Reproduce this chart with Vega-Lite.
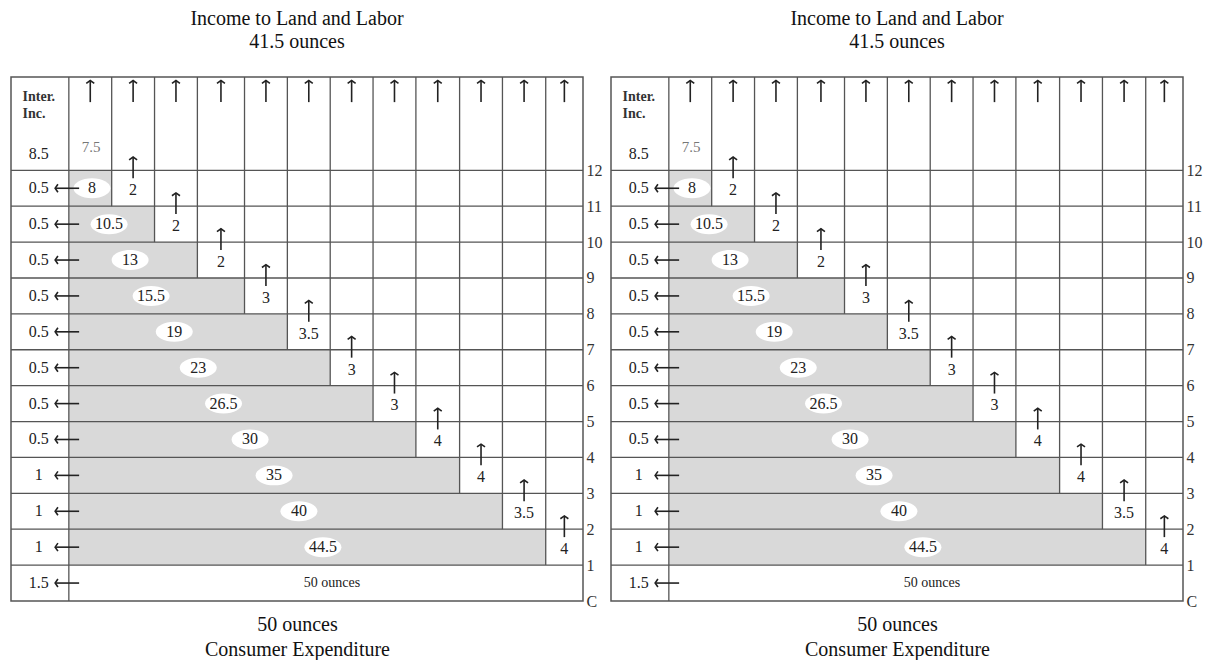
{
  "$schema": "https://vega.github.io/schema/vega-lite/v6.json",
  "padding": {"left": 9, "top": 8, "right": 0, "bottom": 0},
  "background": "white",
  "spacing": 6,
  "config": {"view": {"stroke": "#555", "strokeWidth": 1.5}, "font": "Liberation Serif"},
  "datasets": {
    "grid": [
      {"x": -1.35, "x2": 12, "y": 1, "y2": 1}, {"x": -1.35, "x2": 12, "y": 2, "y2": 2},
      {"x": -1.35, "x2": 12, "y": 3, "y2": 3}, {"x": -1.35, "x2": 12, "y": 4, "y2": 4},
      {"x": -1.35, "x2": 12, "y": 5, "y2": 5}, {"x": -1.35, "x2": 12, "y": 6, "y2": 6},
      {"x": -1.35, "x2": 12, "y": 7, "y2": 7}, {"x": -1.35, "x2": 12, "y": 8, "y2": 8},
      {"x": -1.35, "x2": 12, "y": 9, "y2": 9}, {"x": -1.35, "x2": 12, "y": 10, "y2": 10},
      {"x": -1.35, "x2": 12, "y": 11, "y2": 11}, {"x": -1.35, "x2": 12, "y": 12, "y2": 12},
      {"x": 0, "x2": 0, "y": 0, "y2": 14.6},
      {"x": 1, "x2": 1, "y": 11, "y2": 14.6}, {"x": 2, "x2": 2, "y": 10, "y2": 14.6},
      {"x": 3, "x2": 3, "y": 9, "y2": 14.6}, {"x": 4.1, "x2": 4.1, "y": 8, "y2": 14.6},
      {"x": 5.1, "x2": 5.1, "y": 7, "y2": 14.6}, {"x": 6.1, "x2": 6.1, "y": 6, "y2": 14.6},
      {"x": 7.1, "x2": 7.1, "y": 5, "y2": 14.6}, {"x": 8.1, "x2": 8.1, "y": 4, "y2": 14.6},
      {"x": 9.12, "x2": 9.12, "y": 3, "y2": 14.6}, {"x": 10.12, "x2": 10.12, "y": 2, "y2": 14.6},
      {"x": 11.13, "x2": 11.13, "y": 1, "y2": 14.6}
    ],
    "shade": [
      {"x": 0, "x2": 1, "y": 11, "y2": 12}, {"x": 0, "x2": 2, "y": 10, "y2": 11},
      {"x": 0, "x2": 3, "y": 9, "y2": 10}, {"x": 0, "x2": 4.1, "y": 8, "y2": 9},
      {"x": 0, "x2": 5.1, "y": 7, "y2": 8}, {"x": 0, "x2": 6.1, "y": 6, "y2": 7},
      {"x": 0, "x2": 7.1, "y": 5, "y2": 6}, {"x": 0, "x2": 8.1, "y": 4, "y2": 5},
      {"x": 0, "x2": 9.12, "y": 3, "y2": 4}, {"x": 0, "x2": 10.12, "y": 2, "y2": 3},
      {"x": 0, "x2": 11.13, "y": 1, "y2": 2}
    ],
    "labels": [
      {"kind": "total", "text": "8", "x": 0.54, "y": 11.5},
      {"kind": "total", "text": "10.5", "x": 0.94, "y": 10.5},
      {"kind": "total", "text": "13", "x": 1.43, "y": 9.5},
      {"kind": "total", "text": "15.5", "x": 1.92, "y": 8.5},
      {"kind": "total", "text": "19", "x": 2.46, "y": 7.5},
      {"kind": "total", "text": "23", "x": 3.02, "y": 6.5},
      {"kind": "total", "text": "26.5", "x": 3.61, "y": 5.5},
      {"kind": "total", "text": "30", "x": 4.23, "y": 4.5},
      {"kind": "total", "text": "35", "x": 4.79, "y": 3.5},
      {"kind": "total", "text": "40", "x": 5.37, "y": 2.5},
      {"kind": "total", "text": "44.5", "x": 5.93, "y": 1.5},
      {"kind": "grand", "text": "50 ounces", "x": 6.14, "y": 0.5},
      {"kind": "inc", "text": "2", "x": 1.5, "y": 11.45},
      {"kind": "inc", "text": "2", "x": 2.5, "y": 10.45},
      {"kind": "inc", "text": "2", "x": 3.55, "y": 9.45},
      {"kind": "inc", "text": "3", "x": 4.6, "y": 8.45},
      {"kind": "inc", "text": "3.5", "x": 5.6, "y": 7.45},
      {"kind": "inc", "text": "3", "x": 6.6, "y": 6.45},
      {"kind": "inc", "text": "3", "x": 7.6, "y": 5.45},
      {"kind": "inc", "text": "4", "x": 8.61, "y": 4.45},
      {"kind": "inc", "text": "4", "x": 9.62, "y": 3.45},
      {"kind": "inc", "text": "3.5", "x": 10.625, "y": 2.45},
      {"kind": "inc", "text": "4", "x": 11.565, "y": 1.45},
      {"kind": "inter", "text": "0.5", "x": -0.7, "y": 11.5},
      {"kind": "inter", "text": "0.5", "x": -0.7, "y": 10.5},
      {"kind": "inter", "text": "0.5", "x": -0.7, "y": 9.5},
      {"kind": "inter", "text": "0.5", "x": -0.7, "y": 8.5},
      {"kind": "inter", "text": "0.5", "x": -0.7, "y": 7.5},
      {"kind": "inter", "text": "0.5", "x": -0.7, "y": 6.5},
      {"kind": "inter", "text": "0.5", "x": -0.7, "y": 5.5},
      {"kind": "inter", "text": "0.5", "x": -0.7, "y": 4.5},
      {"kind": "inter", "text": "1", "x": -0.7, "y": 3.5},
      {"kind": "inter", "text": "1", "x": -0.7, "y": 2.5},
      {"kind": "inter", "text": "1", "x": -0.7, "y": 1.5},
      {"kind": "inter", "text": "1.5", "x": -0.7, "y": 0.5},
      {"kind": "init", "text": "8.5", "x": -0.7, "y": 12.45},
      {"kind": "head", "text": "Inter.", "x": -1.08, "y": 14.05},
      {"kind": "head", "text": "Inc.", "x": -1.08, "y": 13.58},
      {"kind": "wage", "text": "7.5", "x": 0.52, "y": 12.64}
    ],
    "shafts": [
      {"x": 0.5, "x2": 0.5, "y": 13.9, "y2": 14.5}, {"x": 1.5, "x2": 1.5, "y": 13.9, "y2": 14.5},
      {"x": 2.5, "x2": 2.5, "y": 13.9, "y2": 14.5}, {"x": 3.55, "x2": 3.55, "y": 13.9, "y2": 14.5},
      {"x": 4.6, "x2": 4.6, "y": 13.9, "y2": 14.5}, {"x": 5.6, "x2": 5.6, "y": 13.9, "y2": 14.5},
      {"x": 6.6, "x2": 6.6, "y": 13.9, "y2": 14.5}, {"x": 7.6, "x2": 7.6, "y": 13.9, "y2": 14.5},
      {"x": 8.61, "x2": 8.61, "y": 13.9, "y2": 14.5}, {"x": 9.62, "x2": 9.62, "y": 13.9, "y2": 14.5},
      {"x": 10.625, "x2": 10.625, "y": 13.9, "y2": 14.5}, {"x": 11.565, "x2": 11.565, "y": 13.9, "y2": 14.5},
      {"x": 1.5, "x2": 1.5, "y": 11.78, "y2": 12.37}, {"x": 2.5, "x2": 2.5, "y": 10.78, "y2": 11.37},
      {"x": 3.55, "x2": 3.55, "y": 9.78, "y2": 10.37}, {"x": 4.6, "x2": 4.6, "y": 8.78, "y2": 9.37},
      {"x": 5.6, "x2": 5.6, "y": 7.78, "y2": 8.37}, {"x": 6.6, "x2": 6.6, "y": 6.78, "y2": 7.37},
      {"x": 7.6, "x2": 7.6, "y": 5.78, "y2": 6.37}, {"x": 8.61, "x2": 8.61, "y": 4.78, "y2": 5.37},
      {"x": 9.62, "x2": 9.62, "y": 3.78, "y2": 4.37}, {"x": 10.625, "x2": 10.625, "y": 2.78, "y2": 3.37},
      {"x": 11.565, "x2": 11.565, "y": 1.78, "y2": 2.37},
      {"x": 0.24, "x2": -0.32, "y": 11.5, "y2": 11.5}, {"x": 0.24, "x2": -0.32, "y": 10.5, "y2": 10.5},
      {"x": 0.24, "x2": -0.32, "y": 9.5, "y2": 9.5}, {"x": 0.24, "x2": -0.32, "y": 8.5, "y2": 8.5},
      {"x": 0.24, "x2": -0.32, "y": 7.5, "y2": 7.5}, {"x": 0.24, "x2": -0.32, "y": 6.5, "y2": 6.5},
      {"x": 0.24, "x2": -0.32, "y": 5.5, "y2": 5.5}, {"x": 0.24, "x2": -0.32, "y": 4.5, "y2": 4.5},
      {"x": 0.24, "x2": -0.32, "y": 3.5, "y2": 3.5}, {"x": 0.24, "x2": -0.32, "y": 2.5, "y2": 2.5},
      {"x": 0.24, "x2": -0.32, "y": 1.5, "y2": 1.5}, {"x": 0.24, "x2": -0.32, "y": 0.5, "y2": 0.5}
    ],
    "heads": [
      {"x": 0.5, "y": 14.5, "dir": "up"}, {"x": 1.5, "y": 14.5, "dir": "up"},
      {"x": 2.5, "y": 14.5, "dir": "up"}, {"x": 3.55, "y": 14.5, "dir": "up"},
      {"x": 4.6, "y": 14.5, "dir": "up"}, {"x": 5.6, "y": 14.5, "dir": "up"},
      {"x": 6.6, "y": 14.5, "dir": "up"}, {"x": 7.6, "y": 14.5, "dir": "up"},
      {"x": 8.61, "y": 14.5, "dir": "up"}, {"x": 9.62, "y": 14.5, "dir": "up"},
      {"x": 10.625, "y": 14.5, "dir": "up"}, {"x": 11.565, "y": 14.5, "dir": "up"},
      {"x": 1.5, "y": 12.37, "dir": "up"}, {"x": 2.5, "y": 11.37, "dir": "up"},
      {"x": 3.55, "y": 10.37, "dir": "up"}, {"x": 4.6, "y": 9.37, "dir": "up"},
      {"x": 5.6, "y": 8.37, "dir": "up"}, {"x": 6.6, "y": 7.37, "dir": "up"},
      {"x": 7.6, "y": 6.37, "dir": "up"}, {"x": 8.61, "y": 5.37, "dir": "up"},
      {"x": 9.62, "y": 4.37, "dir": "up"}, {"x": 10.625, "y": 3.37, "dir": "up"},
      {"x": 11.565, "y": 2.37, "dir": "up"},
      {"x": -0.32, "y": 11.5, "dir": "left"}, {"x": -0.32, "y": 10.5, "dir": "left"},
      {"x": -0.32, "y": 9.5, "dir": "left"}, {"x": -0.32, "y": 8.5, "dir": "left"},
      {"x": -0.32, "y": 7.5, "dir": "left"}, {"x": -0.32, "y": 6.5, "dir": "left"},
      {"x": -0.32, "y": 5.5, "dir": "left"}, {"x": -0.32, "y": 4.5, "dir": "left"},
      {"x": -0.32, "y": 3.5, "dir": "left"}, {"x": -0.32, "y": 2.5, "dir": "left"},
      {"x": -0.32, "y": 1.5, "dir": "left"}, {"x": -0.32, "y": 0.5, "dir": "left"}
    ]
  },
  "hconcat": [
    {
      "width": 572, "height": 524,
      "title": {"text": ["Income to Land and Labor", "41.5 ounces"], "font": "Liberation Serif", "fontSize": 20, "fontWeight": "normal", "lineHeight": 23, "color": "#111", "anchor": "middle", "frame": "group", "offset": 24},
      "encoding": {
        "x": {"field": "x", "type": "quantitative", "scale": {"domain": [-1.35, 12], "nice": false, "zero": false},
          "axis": {"orient": "bottom", "labels": false, "ticks": false, "domain": false, "grid": false, "title": ["50 ounces", "Consumer Expenditure"], "titleFont": "Liberation Serif", "titleFontSize": 20, "titleFontWeight": "normal", "titleColor": "#111", "titleLineHeight": 25, "titlePadding": 13}},
        "y": {"field": "y", "type": "quantitative", "scale": {"domain": [0, 14.6], "nice": false, "zero": false},
          "axis": {"orient": "right", "values": [0, 1, 2, 3, 4, 5, 6, 7, 8, 9, 10, 11, 12], "labelExpr": "datum.value === 0 ? 'C' : datum.label", "ticks": false, "domain": false, "grid": false, "title": null, "labelFont": "Liberation Serif", "labelFontSize": 16, "labelColor": "#333", "labelPadding": 3, "labelOverlap": false}}
      },
      "layer": [
        {"data": {"name": "shade"}, "mark": {"type": "rect", "color": "#d9d9d9"}, "encoding": {"x2": {"field": "x2"}, "y2": {"field": "y2"}}},
        {"data": {"name": "grid"}, "mark": {"type": "rule", "color": "#555", "strokeWidth": 1.3}, "encoding": {"x2": {"field": "x2"}, "y2": {"field": "y2"}}},
        {"data": {"name": "labels"}, "transform": [{"filter": "datum.kind === 'total'"}], "mark": {"type": "point", "shape": "M-1,0A1,0.54,0,1,0,1,0A1,0.54,0,1,0,-1,0Z", "filled": true, "color": "white", "opacity": 1, "size": 1369, "strokeWidth": 0}},
        {"data": {"name": "labels"}, "transform": [{"filter": "datum.kind === 'total' || datum.kind === 'inc' || datum.kind === 'inter' || datum.kind === 'init'"}], "mark": {"type": "text", "font": "Liberation Serif", "fontSize": 16, "color": "#222", "align": "center", "baseline": "middle"}, "encoding": {"text": {"field": "text", "type": "nominal"}}},
        {"data": {"name": "labels"}, "transform": [{"filter": "datum.kind === 'grand'"}], "mark": {"type": "text", "font": "Liberation Serif", "fontSize": 14, "color": "#222", "align": "center", "baseline": "middle"}, "encoding": {"text": {"field": "text", "type": "nominal"}}},
        {"data": {"name": "labels"}, "transform": [{"filter": "datum.kind === 'head'"}], "mark": {"type": "text", "font": "Liberation Serif", "fontSize": 14, "fontWeight": "bold", "color": "#333", "align": "left", "baseline": "middle"}, "encoding": {"text": {"field": "text", "type": "nominal"}}},
        {"data": {"name": "labels"}, "transform": [{"filter": "datum.kind === 'wage'"}], "mark": {"type": "text", "font": "Liberation Serif", "fontSize": 15, "color": "#777", "align": "center", "baseline": "middle"}, "encoding": {"text": {"field": "text", "type": "nominal"}}},
        {"data": {"name": "shafts"}, "mark": {"type": "rule", "color": "#222", "strokeWidth": 1.6}, "encoding": {"x2": {"field": "x2"}, "y2": {"field": "y2"}}},
        {"data": {"name": "heads"}, "mark": {"type": "point", "filled": false, "stroke": "#222", "fill": null, "strokeWidth": 1.6, "opacity": 1, "size": 64},
          "encoding": {"shape": {"field": "dir", "type": "nominal", "scale": {"domain": ["up", "left"], "range": ["M-1,0.7L0,0L1,0.7", "M0.7,-1L0,0L0.7,1"]}, "legend": null}}}
      ]
    },
    {
      "width": 572, "height": 524,
      "title": {"text": ["Income to Land and Labor", "41.5 ounces"], "font": "Liberation Serif", "fontSize": 20, "fontWeight": "normal", "lineHeight": 23, "color": "#111", "anchor": "middle", "frame": "group", "offset": 24},
      "encoding": {
        "x": {"field": "x", "type": "quantitative", "scale": {"domain": [-1.35, 12], "nice": false, "zero": false},
          "axis": {"orient": "bottom", "labels": false, "ticks": false, "domain": false, "grid": false, "title": ["50 ounces", "Consumer Expenditure"], "titleFont": "Liberation Serif", "titleFontSize": 20, "titleFontWeight": "normal", "titleColor": "#111", "titleLineHeight": 25, "titlePadding": 13}},
        "y": {"field": "y", "type": "quantitative", "scale": {"domain": [0, 14.6], "nice": false, "zero": false},
          "axis": {"orient": "right", "values": [0, 1, 2, 3, 4, 5, 6, 7, 8, 9, 10, 11, 12], "labelExpr": "datum.value === 0 ? 'C' : datum.label", "ticks": false, "domain": false, "grid": false, "title": null, "labelFont": "Liberation Serif", "labelFontSize": 16, "labelColor": "#333", "labelPadding": 3, "labelOverlap": false}}
      },
      "layer": [
        {"data": {"name": "shade"}, "mark": {"type": "rect", "color": "#d9d9d9"}, "encoding": {"x2": {"field": "x2"}, "y2": {"field": "y2"}}},
        {"data": {"name": "grid"}, "mark": {"type": "rule", "color": "#555", "strokeWidth": 1.3}, "encoding": {"x2": {"field": "x2"}, "y2": {"field": "y2"}}},
        {"data": {"name": "labels"}, "transform": [{"filter": "datum.kind === 'total'"}], "mark": {"type": "point", "shape": "M-1,0A1,0.54,0,1,0,1,0A1,0.54,0,1,0,-1,0Z", "filled": true, "color": "white", "opacity": 1, "size": 1369, "strokeWidth": 0}},
        {"data": {"name": "labels"}, "transform": [{"filter": "datum.kind === 'total' || datum.kind === 'inc' || datum.kind === 'inter' || datum.kind === 'init'"}], "mark": {"type": "text", "font": "Liberation Serif", "fontSize": 16, "color": "#222", "align": "center", "baseline": "middle"}, "encoding": {"text": {"field": "text", "type": "nominal"}}},
        {"data": {"name": "labels"}, "transform": [{"filter": "datum.kind === 'grand'"}], "mark": {"type": "text", "font": "Liberation Serif", "fontSize": 14, "color": "#222", "align": "center", "baseline": "middle"}, "encoding": {"text": {"field": "text", "type": "nominal"}}},
        {"data": {"name": "labels"}, "transform": [{"filter": "datum.kind === 'head'"}], "mark": {"type": "text", "font": "Liberation Serif", "fontSize": 14, "fontWeight": "bold", "color": "#333", "align": "left", "baseline": "middle"}, "encoding": {"text": {"field": "text", "type": "nominal"}}},
        {"data": {"name": "labels"}, "transform": [{"filter": "datum.kind === 'wage'"}], "mark": {"type": "text", "font": "Liberation Serif", "fontSize": 15, "color": "#777", "align": "center", "baseline": "middle"}, "encoding": {"text": {"field": "text", "type": "nominal"}}},
        {"data": {"name": "shafts"}, "mark": {"type": "rule", "color": "#222", "strokeWidth": 1.6}, "encoding": {"x2": {"field": "x2"}, "y2": {"field": "y2"}}},
        {"data": {"name": "heads"}, "mark": {"type": "point", "filled": false, "stroke": "#222", "fill": null, "strokeWidth": 1.6, "opacity": 1, "size": 64},
          "encoding": {"shape": {"field": "dir", "type": "nominal", "scale": {"domain": ["up", "left"], "range": ["M-1,0.7L0,0L1,0.7", "M0.7,-1L0,0L0.7,1"]}, "legend": null}}}
      ]
    }
  ]
}
